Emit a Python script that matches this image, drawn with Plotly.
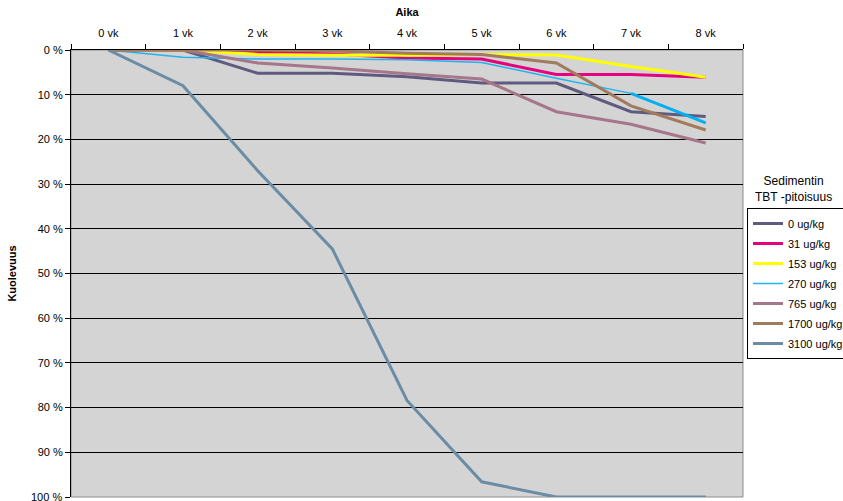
import plotly.graph_objects as go

weeks = ["0 vk", "1 vk", "2 vk", "3 vk", "4 vk", "5 vk", "6 vk", "7 vk", "8 vk"]
series_names = ["0 ug/kg", "31 ug/kg", "153 ug/kg", "270 ug/kg", "765 ug/kg", "1700 ug/kg", "3100 ug/kg"]
s0 = [0, 0, 5.2, 5.2, 6.0, 7.4, 7.4, 13.8, 14.9]
s31 = [0, 0, 0.5, 0.9, 1.8, 2.0, 5.5, 5.5, 6.1]
s153 = [0, 0, 1.0, 1.2, 1.2, 1.0, 1.1, 3.7, 6.1]
s270 = [0, 1.6, 2.0, 2.0, 2.2, 2.8, 6.3, 9.7, 16.3]
s765 = [0, 0, 2.9, 4.0, 5.3, 6.5, 13.8, 16.6, 20.8]
s1700 = [0, 0, 0, 0.2, 0.7, 1.0, 2.9, 12.5, 17.9]
s3100 = [0, 8.0, 27.0, 44.5, 78.4, 96.6, 100, 100, 100]
y_max = 100

colors = ["#5f5a80", "#e6007e", "#ffff00", "#1eb4f0", "#a6768a", "#a27a5c", "#6a8ca4"]
widths = [3, 3, 3, 1.5, 3, 3, 3]
values = [s0, s31, s153, s270, s765, s1700, s3100]

font = "Liberation Sans, Arial, sans-serif"
fig = go.Figure()
for name, vals, c, w in zip(series_names, values, colors, widths):
    fig.add_trace(go.Scatter(x=weeks, y=vals, mode="lines", name=name, legendgroup=name,
                             line=dict(color=c, width=w)))
# thicker final segment of the 270 ug/kg series, as in the original
fig.add_trace(go.Scatter(x=weeks[7:], y=s270[7:], mode="lines", showlegend=False,
                         legendgroup=series_names[3],
                         line=dict(color="#00b0f0", width=3), hoverinfo="skip"))

fig.update_layout(
    width=843, height=501,
    margin=dict(l=71, r=97, t=50, b=4),
    paper_bgcolor="white", plot_bgcolor="#d4d4d4",
    font=dict(family=font, size=11, color="black"),
    showlegend=True,
    legend=dict(xref="container", yref="container", x=747 / 843, xanchor="left",
                y=1 - 208 / 501, yanchor="top",
                bordercolor="black", borderwidth=1, bgcolor="white",
                font=dict(size=11), itemwidth=30, tracegroupgap=1,
                groupclick="toggleitem"),
    xaxis=dict(type="category", side="top", range=[-0.5, 8.5],
               tickson="boundaries", ticks="outside", ticklen=5, tickcolor="black",
               ticklabelstandoff=8,
               showline=True, linecolor="black", linewidth=1, showgrid=False,
               title=dict(text="<b>Aika</b>", font=dict(size=11), standoff=7),
               tickfont=dict(size=11)),
    yaxis=dict(range=[y_max, 0], dtick=10, ticksuffix=" %", ticks="outside",
               ticklen=5, tickcolor="black", showline=True, linecolor="black",
               linewidth=1, showgrid=True, gridcolor="black", gridwidth=1,
               zeroline=False,
               title=dict(text="<b>Kuolevuus</b>", font=dict(size=11), standoff=18),
               tickfont=dict(size=11)),
    shapes=[dict(type="rect", xref="paper", yref="paper", x0=0, x1=1, y0=0, y1=1,
                 line=dict(color="#8c8c8c", width=1), layer="below")],
    annotations=[
        dict(text="Sedimentin<br>TBT -pitoisuus", xref="paper", yref="paper",
             x=1.0 + (797 - 746) / 675, y=(497 - 206) / 447,
             xanchor="center", yanchor="bottom",
             showarrow=False, font=dict(size=12)),
        # bottom tick label, partly cut by the window edge as in the reference
        dict(text=f"{y_max} %", xref="paper", yref="y", x=0, y=y_max,
             xanchor="right", yanchor="middle", xshift=-7,
             showarrow=False, font=dict(size=11)),
    ],
)
fig.write_html("out.html", config={"displayModeBar": False},
               post_script="document.body.style.margin='0';document.body.style.overflow='hidden';")
